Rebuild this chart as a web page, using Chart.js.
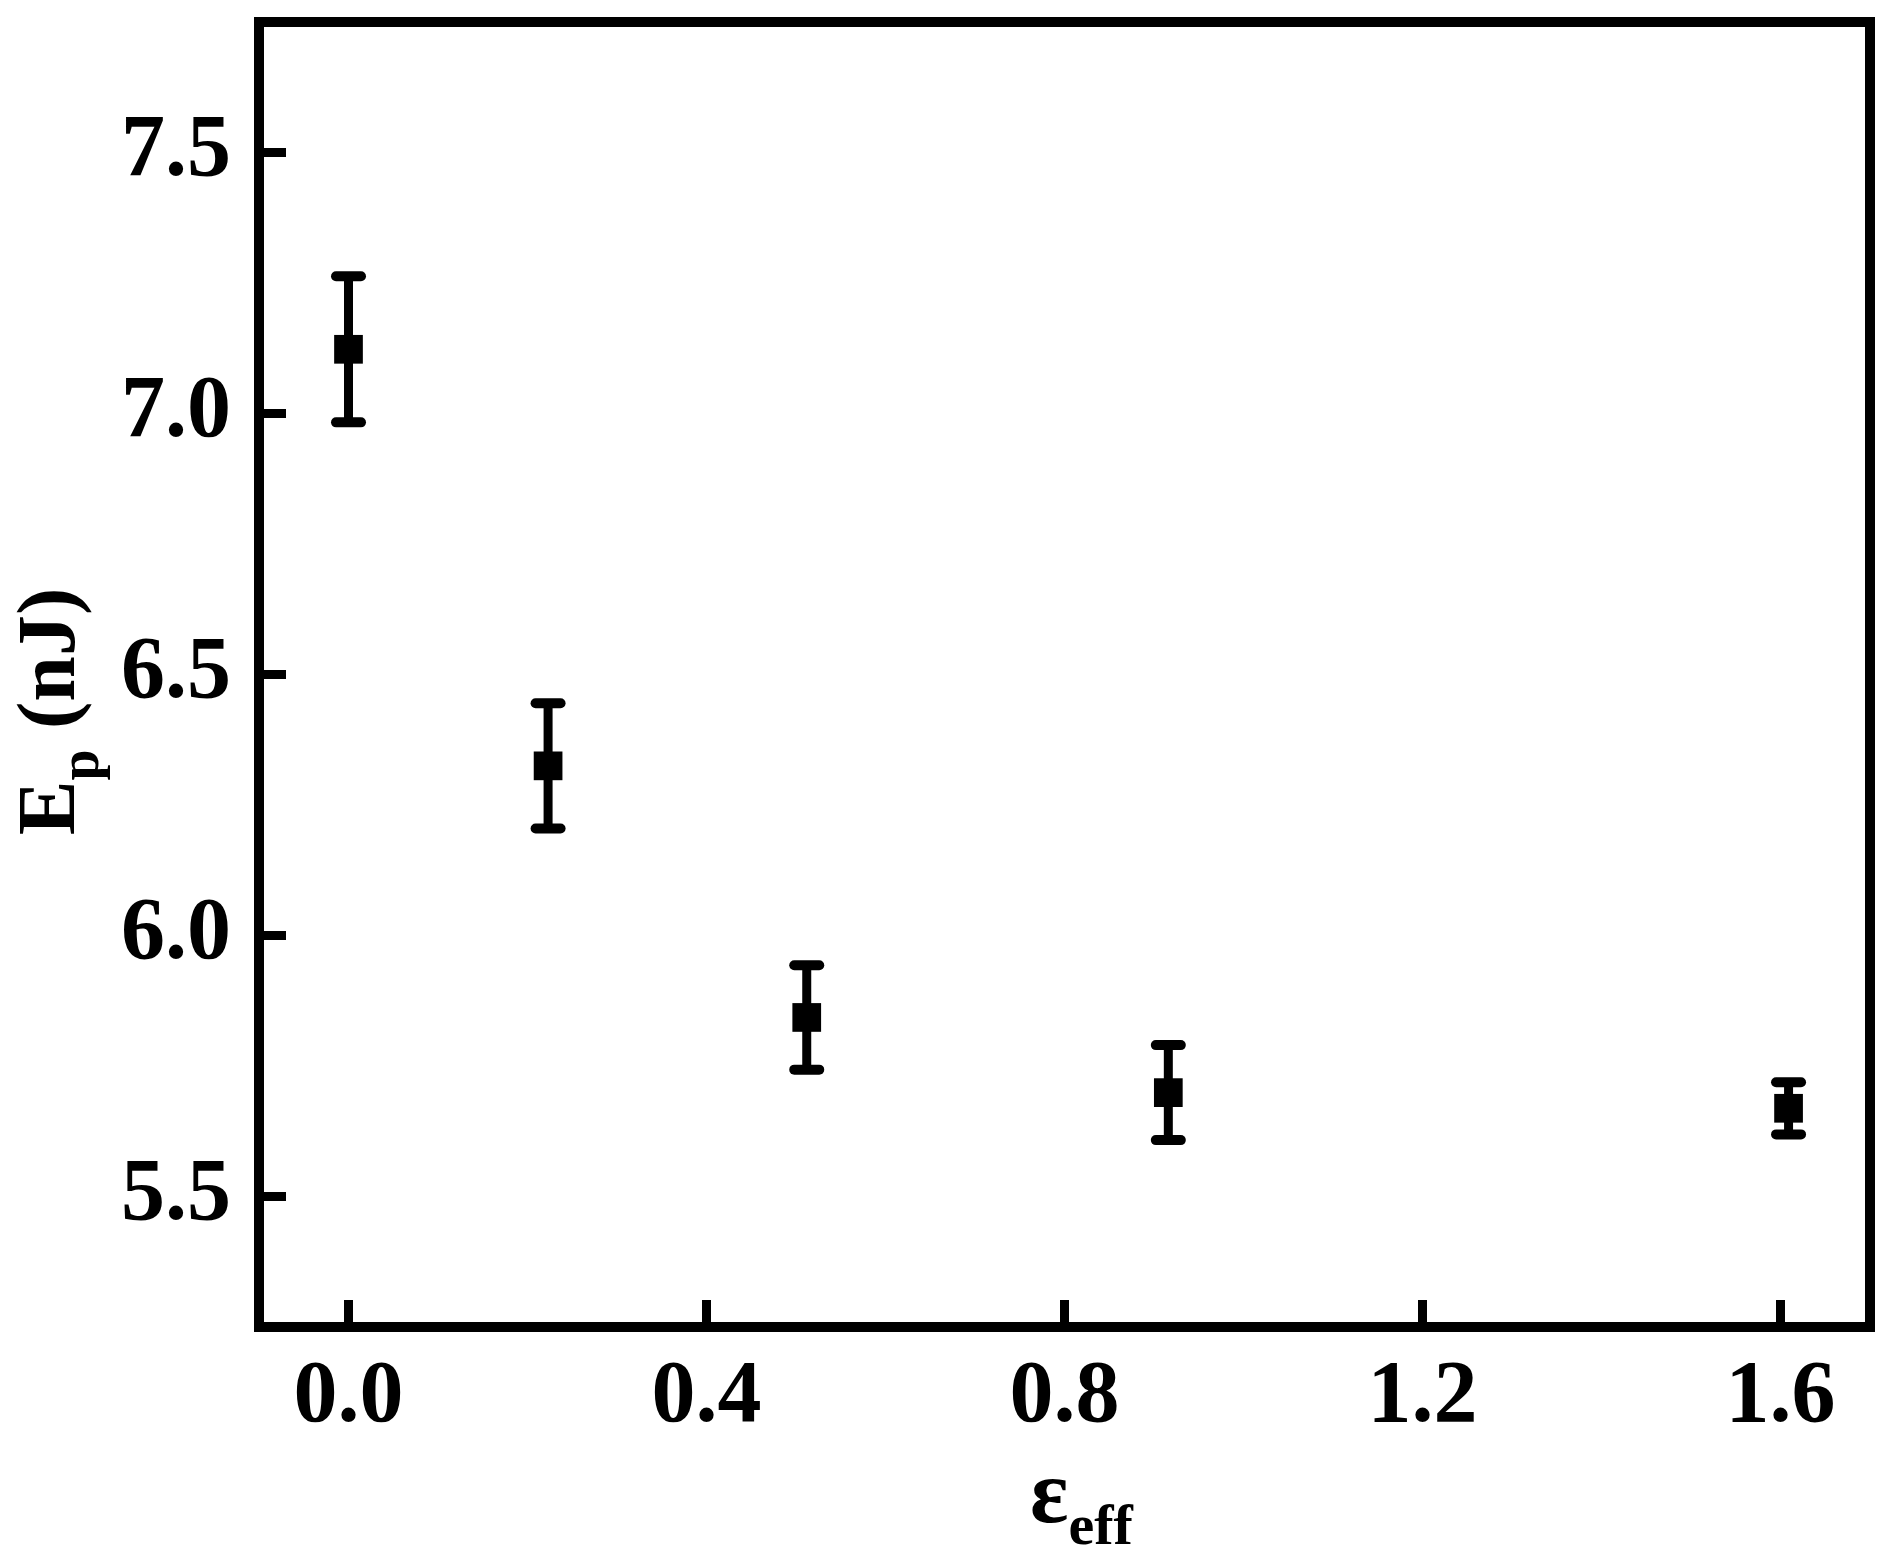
<!DOCTYPE html>
<html><head><meta charset="utf-8">
<script src="https://cdn.jsdelivr.net/npm/chart.js@4.4.1/dist/chart.umd.min.js"></script>
<style>html,body{margin:0;padding:0;background:#fff;}#wrap{width:1892px;height:1560px;}</style>
</head><body><div id="wrap"><canvas id="c" width="1892" height="1560"></canvas></div>
<script>
const strainValues = [0, 0.223, 0.512, 0.916, 1.609];
const energyValues = [7.123, 6.325, 5.843, 5.699, 5.669];
const energyErrors = [0.140, 0.120, 0.100, 0.091, 0.050];
const xTickValues = [0.0, 0.4, 0.8, 1.2, 1.6];
const yTickValues = [5.5, 6.0, 6.5, 7.0, 7.5];
const xTitleMain = 'ε', xTitleSub = 'eff';
const yTitleMain = 'E', yTitleSub = 'p', yTitleRest = ' (nJ)';

const FONT = '"Liberation Serif", "Times New Roman", serif';

const framePlugin = {
  id: 'frameTicks',
  afterDraw(chart) {
    const {ctx, chartArea: a, scales} = chart;
    ctx.save();
    ctx.strokeStyle = '#000';
    ctx.lineJoin = 'miter';
    ctx.lineWidth = 10;
    ctx.strokeRect(a.left, a.top, a.right - a.left, a.bottom - a.top);
    ctx.lineWidth = 9;
    ctx.lineCap = 'butt';
    scales.x.ticks.forEach(t => {
      const px = scales.x.getPixelForValue(t.value);
      ctx.beginPath(); ctx.moveTo(px, a.bottom - 5); ctx.lineTo(px, a.bottom - 27); ctx.stroke();
    });
    scales.y.ticks.forEach(t => {
      const py = scales.y.getPixelForValue(t.value);
      ctx.beginPath(); ctx.moveTo(a.left + 5, py); ctx.lineTo(a.left + 27, py); ctx.stroke();
    });
    ctx.fillStyle = '#000';
    ctx.textBaseline = 'alphabetic';
    ctx.textAlign = 'left';
    const cx = (a.left + a.right) / 2, cy = (a.top + a.bottom) / 2;
    ctx.font = 'bold 90px ' + FONT;
    const w1 = ctx.measureText(xTitleMain).width;
    ctx.font = 'bold 58px ' + FONT;
    const w2 = ctx.measureText(xTitleSub).width;
    let sx = cx + 17 - (w1 + w2) / 2;
    ctx.font = 'bold 90px ' + FONT;
    ctx.fillText(xTitleMain, sx, a.bottom + 195);
    ctx.font = 'bold 58px ' + FONT;
    ctx.fillText(xTitleSub, sx + w1, a.bottom + 217);
    ctx.font = 'bold 82px ' + FONT;
    const e1 = ctx.measureText(yTitleMain).width;
    const e3 = ctx.measureText(yTitleRest).width;
    ctx.font = 'bold 56px ' + FONT;
    const e2 = ctx.measureText(yTitleSub).width;
    const tot = e1 + e2 + e3;
    ctx.translate(a.left - 185, cy + 37);
    ctx.rotate(-Math.PI / 2);
    let s = -tot / 2;
    ctx.font = 'bold 82px ' + FONT;
    ctx.fillText(yTitleMain, s, 0);
    ctx.font = 'bold 56px ' + FONT;
    ctx.fillText(yTitleSub, s + e1, 24);
    ctx.font = 'bold 82px ' + FONT;
    ctx.fillText(yTitleRest, s + e1 + e2, 0);
    ctx.restore();
  }
};

const errorBarPlugin = {
  id: 'errorBars',
  beforeDatasetsDraw(chart) {
    const {ctx, scales: {x, y}} = chart;
    ctx.save();
    ctx.strokeStyle = '#000';
    strainValues.forEach((xv, i) => {
      const px = x.getPixelForValue(xv);
      const yt = y.getPixelForValue(energyValues[i] + energyErrors[i]);
      const yb = y.getPixelForValue(energyValues[i] - energyErrors[i]);
      ctx.lineWidth = 9; ctx.lineCap = 'butt';
      ctx.beginPath(); ctx.moveTo(px, yt); ctx.lineTo(px, yb); ctx.stroke();
      ctx.lineWidth = 10; ctx.lineCap = 'round';
      [yt, yb].forEach(yy => {
        ctx.beginPath(); ctx.moveTo(px - 12.5, yy); ctx.lineTo(px + 12.5, yy); ctx.stroke();
      });
    });
    ctx.restore();
  }
};

new Chart(document.getElementById('c'), {
  type: 'scatter',
  data: {
    datasets: [{
      data: strainValues.map((xv, i) => ({x: xv, y: energyValues[i]})),
      pointStyle: 'rect',
      pointRadius: 20.3,
      pointHoverRadius: 20.3,
      backgroundColor: '#000',
      borderColor: '#000',
      borderWidth: 0,
      showLine: false
    }]
  },
  options: {
    responsive: false,
    animation: false,
    events: [],
    layout: {padding: {left: 0, right: 22, top: 22, bottom: 0}},
    plugins: {legend: {display: false}, tooltip: {enabled: false}},
    scales: {
      x: {
        type: 'linear', position: 'bottom', min: -0.1, max: 1.7,
        afterBuildTicks: s => { s.ticks = xTickValues.map(v => ({value: v})); },
        afterFit: s => { s.height = 233; s.paddingLeft = 0; s.paddingRight = 0; s.paddingTop = 0; s.paddingBottom = 0; },
        grid: {display: false, drawTicks: false},
        border: {display: false},
        ticks: {color: '#000', padding: 18, maxRotation: 0, autoSkip: false,
          font: {family: FONT, size: 88, weight: 'bold'},
          callback: v => Number(v).toFixed(1)}
      },
      y: {
        type: 'linear', position: 'left', min: 5.25, max: 7.75,
        afterBuildTicks: s => { s.ticks = yTickValues.map(v => ({value: v})); },
        afterFit: s => { s.width = 259; s.paddingLeft = 0; s.paddingRight = 0; s.paddingTop = 0; s.paddingBottom = 0; },
        grid: {display: false, drawTicks: false},
        border: {display: false},
        ticks: {color: '#000', padding: 28, autoSkip: false,
          font: {family: FONT, size: 88, weight: 'bold'},
          callback: v => Number(v).toFixed(1)}
      }
    }
  },
  plugins: [framePlugin, errorBarPlugin]
});
</script></body></html>
